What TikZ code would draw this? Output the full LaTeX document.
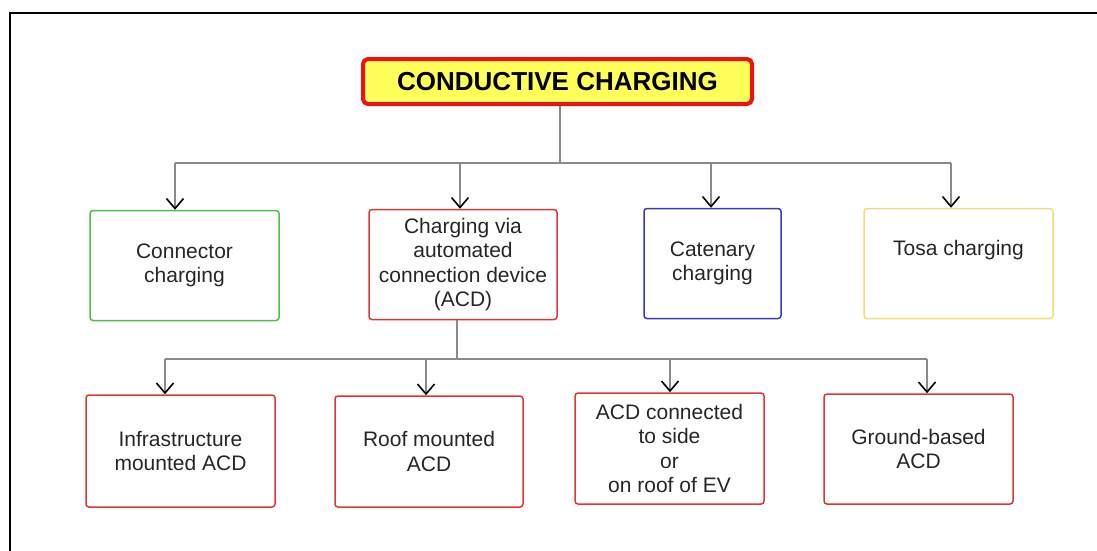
\documentclass[tikz,border=0pt]{standalone}
\usepackage{fontspec}
\setmainfont{Liberation Sans}
\usetikzlibrary{arrows.meta}
\definecolor{bgreen}{HTML}{4CC04C}
\definecolor{bred}{HTML}{E03535}
\definecolor{bblue}{HTML}{3838B8}
\definecolor{byellow}{HTML}{F2DC78}
\definecolor{tyellow}{HTML}{FFFF5A}
\definecolor{tred}{HTML}{F01010}
\definecolor{lgrey}{HTML}{8A8A8A}
\tikzset{
  box/.style={draw, line width=1.5pt, rounded corners=3pt, align=center,
    font=\fontsize{21}{24.5}\selectfont, inner sep=0pt, text=black!85},
  titlebox/.style={draw=tred, fill=tyellow, line width=4pt, rounded corners=5pt,
    minimum width=389pt, minimum height=45pt, inner sep=0pt,
    font=\fontsize{26}{30}\selectfont\bfseries},
  link/.style={draw=lgrey, line width=1.1pt},
  arr/.style={link, -{Straight Barb[length=10pt,width=17pt,line width=1.6pt,black]}}
}
\begin{document}
\begin{tikzpicture}[x=1pt,y=-1pt]
\useasboundingbox (0,0) rectangle (1097,550);
\draw[line width=2pt] (10,551) -- (10,13) -- (1098,13);

\node[titlebox] (title) at (557.5,81.5) {CONDUCTIVE CHARGING};

\node[box, draw=bgreen, minimum width=189pt, minimum height=110pt] (conn) at (184.5,265.5) {Connector\\charging};
\node[box, draw=bred, minimum width=188pt, minimum height=110pt] (acd) at (463,264.5) {Charging via\\automated\\connection device\\(ACD)};
\node[box, draw=bblue, minimum width=137pt, minimum height=110pt] (cat) at (712.5,263.5) {Catenary\\charging};
\node[box, draw=byellow, minimum width=189pt, minimum height=110pt] (tosa) at (958.5,263.5) {Tosa charging\\\strut};

\node[box, draw=bred, minimum width=189pt, minimum height=112pt] (infra) at (180.5,451) {Infrastructure\\mounted ACD};
\node[box, draw=bred, minimum width=188pt, minimum height=111pt] (roof) at (429,451.5) {Roof mounted\\ACD};
\node[box, draw=bred, minimum width=189pt, minimum height=111pt] (side) at (669.5,448.5) {ACD connected\\to side\\or\\on roof of EV};
\node[box, draw=bred, minimum width=189pt, minimum height=110pt] (ground) at (918.5,449) {Ground-based\\ACD};

% top bus
\coordinate (t0) at (560,163);
\coordinate (t1) at (175,163);
\coordinate (t2) at (460,163);
\coordinate (t3) at (711,163);
\coordinate (t4) at (951,163);
\draw[link] (title.south -| t0) -- (t0);
\draw[link] (t1) -- (t4);
\draw[arr] (t1) -- (t1 |- conn.north);
\draw[arr] (t2) -- (t2 |- acd.north);
\draw[arr] (t3) -- (t3 |- cat.north);
\draw[arr] (t4) -- (t4 |- tosa.north);

% bottom bus
\coordinate (s0) at (457,359);
\coordinate (s1) at (165,359);
\coordinate (s2) at (426,359);
\coordinate (s3) at (670,359);
\coordinate (s4) at (927,359);
\draw[link] (acd.south -| s0) -- (s0);
\draw[link] (s1) -- (s4);
\draw[arr] (s1) -- (s1 |- infra.north);
\draw[arr] (s2) -- (s2 |- roof.north);
\draw[arr] (s3) -- (s3 |- side.north);
\draw[arr] (s4) -- (s4 |- ground.north);
\end{tikzpicture}
\end{document}
